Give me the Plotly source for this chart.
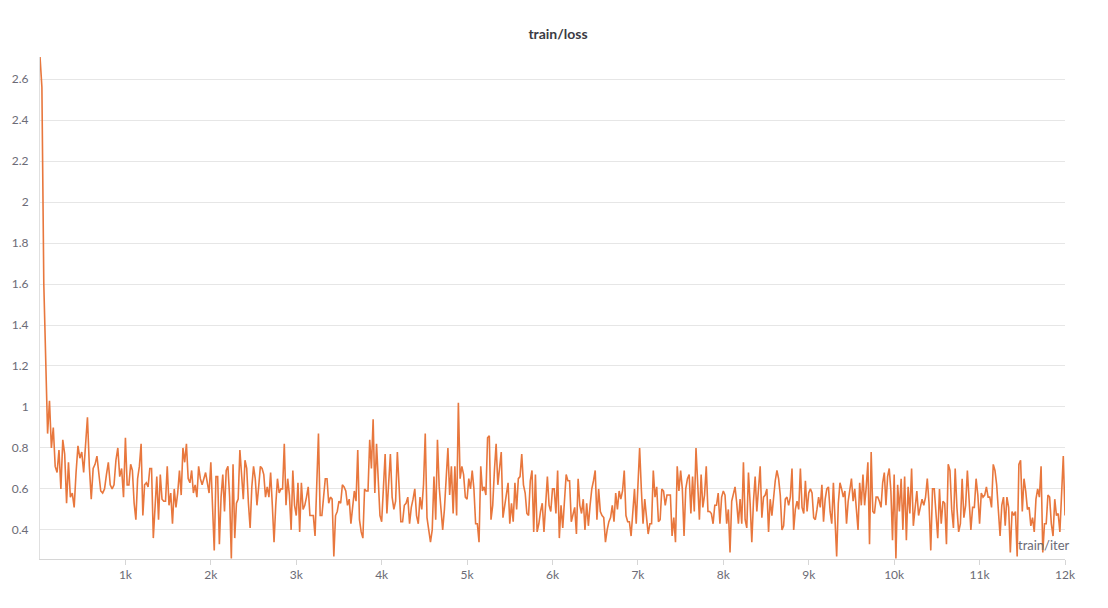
import plotly.graph_objects as go

# train/loss sampled along train/iter, one list per 1k block of iterations
block_00 = [2.71, 2.56, 1.60, 1.20, 0.87, 1.03, 0.80, 0.90, 0.71, 0.68, 0.79, 0.60, 0.84, 0.77, 0.53,
            0.73, 0.56, 0.58, 0.51, 0.68, 0.81, 0.75, 0.78, 0.68, 0.82, 0.95, 0.71, 0.55, 0.70, 0.72,
            0.76, 0.68, 0.59, 0.58, 0.60, 0.67, 0.73, 0.62, 0.60, 0.62, 0.74, 0.80, 0.66, 0.70, 0.56]
block_01 = [0.85, 0.62, 0.62, 0.72, 0.69, 0.53, 0.45, 0.65, 0.71, 0.82, 0.47, 0.62, 0.63, 0.61, 0.70,
            0.70, 0.36, 0.54, 0.66, 0.45, 0.67, 0.55, 0.54, 0.54, 0.71, 0.52, 0.58, 0.43, 0.60, 0.51,
            0.58, 0.69, 0.57, 0.80, 0.73, 0.82, 0.65, 0.63, 0.69, 0.58, 0.62, 0.56, 0.71, 0.65, 0.62,
            0.65, 0.68, 0.63, 0.58]
block_02 = [0.73, 0.55, 0.30, 0.66, 0.66, 0.33, 0.56, 0.67, 0.49, 0.69, 0.71, 0.56, 0.26, 0.72, 0.36,
            0.53, 0.55, 0.79, 0.67, 0.55, 0.74, 0.70, 0.53, 0.41, 0.61, 0.71, 0.65, 0.52, 0.61, 0.71,
            0.70, 0.67, 0.56, 0.61, 0.56, 0.68, 0.52, 0.34, 0.52, 0.65, 0.58, 0.60, 0.60, 0.82, 0.52,
            0.65, 0.57, 0.40, 0.69, 0.52]
block_03 = [0.47, 0.63, 0.39, 0.63, 0.50, 0.52, 0.56, 0.61, 0.47, 0.47, 0.47, 0.37, 0.60, 0.87, 0.47,
            0.47, 0.56, 0.65, 0.65, 0.53, 0.56, 0.55, 0.27, 0.47, 0.49, 0.54, 0.53, 0.62, 0.61, 0.59,
            0.52, 0.55, 0.43, 0.51, 0.59, 0.54, 0.79, 0.45, 0.39, 0.36, 0.60, 0.59, 0.59, 0.84, 0.70,
            0.94, 0.58, 0.82, 0.63, 0.47]
block_04 = [0.44, 0.61, 0.77, 0.48, 0.63, 0.77, 0.56, 0.50, 0.54, 0.78, 0.61, 0.44, 0.44, 0.52, 0.53,
            0.56, 0.43, 0.51, 0.55, 0.60, 0.47, 0.43, 0.56, 0.50, 0.62, 0.87, 0.46, 0.41, 0.34, 0.40,
            0.66, 0.45, 0.84, 0.61, 0.49, 0.40, 0.50, 0.63, 0.80, 0.57, 0.71, 0.48, 0.71, 0.47, 1.02,
            0.65, 0.71, 0.67, 0.56]
block_05 = [0.55, 0.65, 0.60, 0.69, 0.60, 0.43, 0.43, 0.34, 0.71, 0.59, 0.61, 0.57, 0.85, 0.86, 0.45,
            0.52, 0.69, 0.82, 0.62, 0.71, 0.78, 0.46, 0.51, 0.58, 0.63, 0.43, 0.53, 0.44, 0.63, 0.50,
            0.65, 0.66, 0.77, 0.62, 0.58, 0.48, 0.47, 0.64, 0.69, 0.39, 0.67, 0.39, 0.43, 0.49, 0.53,
            0.39, 0.56, 0.66, 0.52, 0.49]
block_06 = [0.60, 0.60, 0.48, 0.69, 0.36, 0.52, 0.41, 0.55, 0.67, 0.64, 0.64, 0.44, 0.48, 0.51, 0.38,
            0.65, 0.52, 0.48, 0.55, 0.40, 0.53, 0.42, 0.52, 0.60, 0.64, 0.69, 0.45, 0.60, 0.49, 0.47,
            0.46, 0.34, 0.40, 0.44, 0.46, 0.52, 0.44, 0.58, 0.50, 0.59, 0.55, 0.59, 0.69, 0.47, 0.44,
            0.44, 0.37, 0.49, 0.60, 0.43]
block_07 = [0.64, 0.80, 0.60, 0.43, 0.55, 0.47, 0.38, 0.43, 0.43, 0.69, 0.56, 0.61, 0.44, 0.45, 0.60,
            0.59, 0.52, 0.57, 0.57, 0.57, 0.37, 0.46, 0.34, 0.71, 0.59, 0.69, 0.60, 0.37, 0.60, 0.65,
            0.67, 0.48, 0.66, 0.49, 0.80, 0.61, 0.45, 0.67, 0.51, 0.57, 0.71, 0.49, 0.49, 0.48, 0.43,
            0.52, 0.52, 0.58, 0.43, 0.56]
block_08 = [0.59, 0.57, 0.43, 0.50, 0.29, 0.54, 0.58, 0.61, 0.53, 0.43, 0.55, 0.43, 0.73, 0.45, 0.41,
            0.68, 0.53, 0.34, 0.54, 0.66, 0.49, 0.63, 0.71, 0.46, 0.56, 0.57, 0.60, 0.39, 0.55, 0.47,
            0.56, 0.64, 0.69, 0.65, 0.57, 0.40, 0.42, 0.55, 0.56, 0.52, 0.56, 0.70, 0.40, 0.50, 0.54,
            0.50, 0.70, 0.51, 0.48, 0.64, 0.49]
block_09 = [0.58, 0.60, 0.58, 0.46, 0.45, 0.50, 0.56, 0.51, 0.62, 0.44, 0.55, 0.60, 0.61, 0.49, 0.43,
            0.63, 0.47, 0.27, 0.53, 0.63, 0.60, 0.56, 0.59, 0.43, 0.54, 0.60, 0.65, 0.54, 0.60, 0.50,
            0.40, 0.63, 0.52, 0.67, 0.52, 0.61, 0.73, 0.33, 0.78, 0.49, 0.48, 0.56, 0.56, 0.54, 0.51,
            0.63, 0.68, 0.52, 0.66, 0.70, 0.59, 0.35]
block_10 = [0.67, 0.26, 0.62, 0.49, 0.65, 0.40, 0.66, 0.35, 0.61, 0.48, 0.70, 0.42, 0.51, 0.59, 0.47,
            0.51, 0.55, 0.52, 0.56, 0.65, 0.53, 0.30, 0.60, 0.60, 0.48, 0.36, 0.60, 0.43, 0.54, 0.53,
            0.33, 0.72, 0.69, 0.50, 0.41, 0.70, 0.51, 0.39, 0.43, 0.65, 0.46, 0.52, 0.69, 0.56, 0.40,
            0.51, 0.51, 0.65, 0.57]
block_11 = [0.43, 0.58, 0.56, 0.57, 0.61, 0.56, 0.56, 0.51, 0.72, 0.69, 0.62, 0.50, 0.37, 0.52, 0.56,
            0.42, 0.56, 0.51, 0.29, 0.49, 0.47, 0.49, 0.27, 0.72, 0.74, 0.49, 0.65, 0.59, 0.50, 0.51,
            0.42, 0.46, 0.39, 0.55, 0.60, 0.56, 0.71, 0.29, 0.43, 0.43, 0.57, 0.56, 0.43, 0.37, 0.55,
            0.47, 0.48, 0.39, 0.60, 0.76]
last_loss = 0.47

blocks = [block_00, block_01, block_02, block_03, block_04, block_05,
          block_06, block_07, block_08, block_09, block_10, block_11]

tick_vals = [1000, 2000, 3000, 4000, 5000, 6000, 7000, 8000, 9000, 10000, 11000, 12000]
tick_text = ["1k", "2k", "3k", "4k", "5k", "6k", "7k", "8k", "9k", "10k", "11k", "12k"]

# spread each block evenly over its 1000 iterations
iters, loss = [], []
for k, blk in enumerate(blocks):
    for i, v in enumerate(blk):
        iters.append(k * 1000 + i * 1000 / len(blk))
        loss.append(v)
iters.append(12000)
loss.append(last_loss)

fig = go.Figure(
    go.Scatter(
        x=iters,
        y=loss,
        mode="lines",
        line=dict(color="#e8773d", width=1.6),
        hoverinfo="x+y",
    )
)

# page body adds an 8px margin, so the figure is 8px smaller than the window
fig.update_layout(
    width=1100,
    height=600,
    paper_bgcolor="white",
    plot_bgcolor="white",
    font=dict(family="Lato, Open Sans, sans-serif", color="#6b6b76", size=12),
    margin=dict(l=32, r=43, t=49, b=49),
    showlegend=False,
    title=dict(
        text="<b>train/loss</b>",
        x=0.5,
        xanchor="center",
        y=1 - 26 / 600,
        yanchor="middle",
        font=dict(size=14, color="#3b3b44"),
    ),
)

fig.update_xaxes(
    range=[0, 12000],
    tickvals=tick_vals,
    ticktext=tick_text,
    showgrid=False,
    zeroline=False,
    showline=True,
    linecolor="#d6d6d6",
    ticks="outside",
    ticklen=5,
    tickcolor="#d6d6d6",
    automargin=False,
)

fig.update_yaxes(
    range=[0.258, 2.708],
    tickvals=[0.4, 0.6, 0.8, 1.0, 1.2, 1.4, 1.6, 1.8, 2.0, 2.2, 2.4, 2.6],
    ticktext=["0.4", "0.6", "0.8", "1", "1.2", "1.4", "1.6", "1.8", "2", "2.2", "2.4", "2.6"],
    showgrid=True,
    gridcolor="#e6e6e6",
    zeroline=False,
    showline=True,
    linecolor="#e0e0e0",
    ticklabelstandoff=8,
    automargin=False,
)

fig.add_annotation(
    text="train/iter",
    xref="paper",
    yref="paper",
    x=1 + 7 / 1025,
    xanchor="right",
    y=14 / 502,
    yanchor="middle",
    showarrow=False,
    font=dict(size=13, color="#6b6b76"),
)

fig.write_html("out.html")
